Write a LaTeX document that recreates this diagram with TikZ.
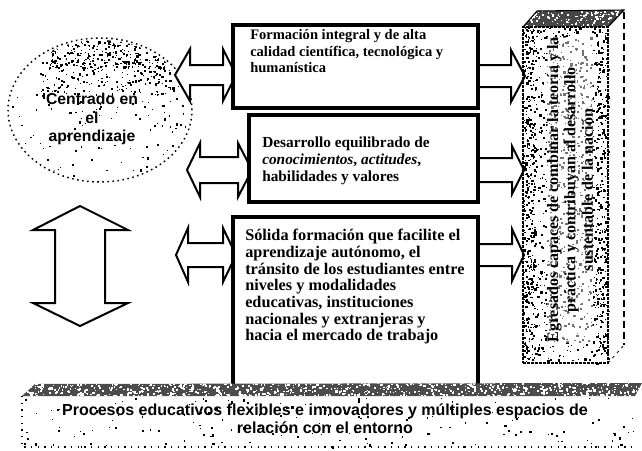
\documentclass[tikz,border=0pt]{standalone}
\usepackage{fontspec}
\setmainfont{Liberation Serif}
\setsansfont{Liberation Sans}
\usetikzlibrary{fit,shapes.geometric}
\newcommand\speck[7]{%
  \pgfmathsetseed{#6}%
  \foreach \i in {1,...,#5}{%
    \pgfmathsetmacro\sx{#1+rnd*#3}%
    \pgfmathsetmacro\sy{#2+rnd*#4}%
    \pgfmathsetmacro\ss{0.7+rnd*1.7}%
    \fill[#7] (\sx,\sy) rectangle ++(\ss,\ss);%
  }%
}
\newcommand\hdarrow[7]{% xl xlb xrb xr yc headhalf shafthalf
  \draw[blockarrow] (#1,#5) -- (#2,#5-#6) -- (#2,#5-#7) -- (#3,#5-#7) -- (#3,#5-#6)
    -- (#4,#5) -- (#3,#5+#6) -- (#3,#5+#7) -- (#2,#5+#7) -- (#2,#5+#6) -- cycle;}
\newcommand\hsarrow[6]{% x0 xb xt yc headhalf shafthalf
  \draw[blockarrow] (#1,#4-#6) -- (#2,#4-#6) -- (#2,#4-#5) -- (#3,#4) -- (#2,#4+#5)
    -- (#2,#4+#6) -- (#1,#4+#6) -- cycle;}
\begin{document}
\begin{tikzpicture}[x=0.75pt,y=-0.75pt,
  boxframe/.style={draw, line width=2.8pt, inner sep=0pt, fill=white},
  blockarrow/.style={draw, line width=1.5pt, fill=white, line join=miter},
  btext/.style={anchor=north west, inner sep=0pt, align=left},
  sanstext/.style={inner sep=0pt, align=center, font=\fontsize{12}{13.5}\selectfont\sffamily\bfseries}]
\useasboundingbox (0,0) rectangle (642,450);
\fill[white] (0,0) rectangle (642,450);

% ---- ellipse "Centrado en el aprendizaje"
\node[ellipse, draw, line width=1.1pt, dash pattern=on 1.2pt off 2.6pt,
      minimum width=138pt, minimum height=108pt, inner sep=0pt] (ell) at (100,110) {};
\begin{scope}
  \clip (100,110) ellipse [x radius=90, y radius=70];
  \speck{50}{38}{115}{30}{260}{11}{black}
  \speck{40}{60}{130}{35}{200}{13}{black}
  \speck{10}{85}{180}{100}{150}{12}{black}
\end{scope}
\node[sanstext, font=\fontsize{11.8}{13.8}\selectfont\sffamily\bfseries] (ct) at (92,119) {Centrado en\\el\\aprendizaje};

% ---- vertical double arrow
\draw[blockarrow] (80,206) -- (128,230) -- (105,230) -- (105,303) -- (128,303) -- (80,326)
   -- (33,303) -- (55,303) -- (55,230) -- (33,230) -- cycle;

% ---- left double arrows
\hdarrow{175}{190}{223}{236}{75}{26}{10}
\hdarrow{187}{200}{238}{252}{170}{27}{13}
\hdarrow{176}{188}{223}{236}{255}{27}{12}

% ---- right single arrows
\hsarrow{476}{511}{525}{76}{26}{11}
\hsarrow{476}{512}{524}{170}{24}{12}
\hsarrow{476}{512}{524}{255}{26}{11}

% ---- boxes
\node[boxframe, fit={(233,25) (478,108)}] (b1) {};
\node[boxframe, fit={(249,115) (478,202)}] (b2) {};
\node[boxframe, fit={(233,217) (478,388)}] (b3) {};

\node[btext, font=\fontsize{10.9}{12.5}\selectfont\bfseries] (t1) at (250,29)
  {Formación integral y de alta\\calidad científica, tecnológica y\\humanística};
\node[btext, font=\fontsize{11.5}{12.5}\selectfont\bfseries] (t2) at (262,137)
  {Desarrollo equilibrado de\\\textit{conocimientos}, \textit{actitudes},\\habilidades y valores};
\node[btext, font=\fontsize{12.2}{12.5}\selectfont\bfseries] (t3) at (245,229)
  {Sólida formación que facilite el\\aprendizaje autónomo, el\\tránsito de los estudiantes entre\\niveles y modalidades\\educativas, instituciones\\nacionales y extranjeras y\\hacia el mercado de trabajo};

% ---- 3D box "Egresados"
\fill[black!72] (523,27) -- (537,11) -- (624,10) -- (608,27) -- cycle;
\begin{scope}
  \clip (523,27) -- (537,11) -- (624,10) -- (608,27) -- cycle;
  \speck{520}{9}{106}{19}{160}{21}{white}
\end{scope}
\draw[line width=0.8pt] (523,27) -- (537,11) -- (624,10) -- (608,27);
\draw[line width=1pt, dash pattern=on 5pt off 3pt] (624,12) -- (624,345);
\draw[line width=0.6pt, dash pattern=on 2pt off 3pt] (608,363) -- (624,345);
\node[draw, line width=1pt, dash pattern=on 2pt off 1pt, inner sep=0pt,
      fit={(523,27) (608,363)}] (egr) {};
\speck{523}{27}{85}{336}{1200}{22}{black}
\speck{523}{27}{12}{336}{240}{23}{black}
\speck{596}{27}{12}{336}{200}{24}{black}
\node[rotate=90, inner sep=0pt, align=center, font=\fontsize{12}{13}\selectfont\bfseries, fill=white, fill opacity=0.45, text opacity=1] (tegr) at (570,190)
  {Egresados capaces de combinar la teoría y la\\práctica y contribuyan al desarrollo\\sustentable de la nación};

% ---- bottom band
\fill[black!70] (35,384) -- (642,383) -- (635,396) -- (22,396) -- cycle;
\begin{scope}
  \clip (35,384) -- (642,383) -- (635,396) -- (22,396) -- cycle;
  \speck{20}{382}{624}{15}{900}{31}{white}
\end{scope}
\node[inner sep=0pt, fit={(22,396) (635,447)}] (band) {};
\draw[line width=0.8pt, dash pattern=on 1pt off 4pt] (22,396) -- (22,447) -- (635,447);
\speck{22}{397}{613}{50}{170}{32}{black}
\node[sanstext] (tband) at (325,419)
  {Procesos educativos flexibles e innovadores y múltiples espacios de\\relación con el entorno};
\end{tikzpicture}
\end{document}
